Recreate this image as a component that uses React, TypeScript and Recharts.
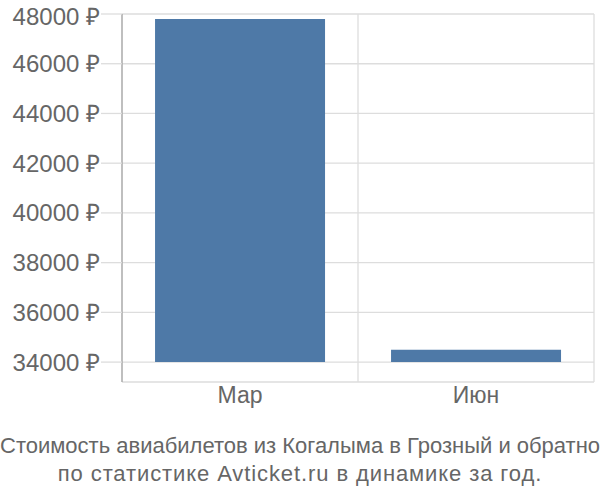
import React from "react";
import { BarChart, Bar, XAxis, YAxis, CartesianGrid } from "recharts";

const categories = ["Мар", "Июн"];
const prices = [47800, 34500];
const baseValue = 34000;
const yTicks = [34000, 36000, 38000, 40000, 42000, 44000, 46000, 48000];
const yDomain = [33200, 48000];
const titleLines = [
  "Стоимость авиабилетов из Когалыма в Грозный и обратно",
  "по статистике Avticket.ru в динамике за год.",
];

const data = categories.map((name, i) => ({ name, range: [baseValue, prices[i]] }));

const FONT = "'Liberation Sans', Arial, sans-serif";
const TEXT = "#666666";

export default function App() {
  return (
    <div style={{ position: "absolute", left: 0, top: 0, width: 600, height: 500, background: "#fff", fontFamily: FONT }}>
      <BarChart
        width={600}
        height={430}
        data={data}
        margin={{ top: 14, right: 6, left: 0, bottom: 8 }}
        barCategoryGap="14%"
      >
        <CartesianGrid
          stroke="#dddddd"
          strokeWidth={1.3}
          verticalCoordinatesGenerator={({ offset }: any) => [
            offset.left + offset.width / 2,
            offset.left + offset.width,
          ]}
        />
        <XAxis
          dataKey="name"
          axisLine={false}
          tickLine={false}
          tickSize={0}
          tickMargin={5}
          height={40}
          tick={{ fill: TEXT, fontSize: 23, fontFamily: FONT }}
        />
        <YAxis
          type="number"
          domain={yDomain}
          ticks={yTicks}
          allowDataOverflow
          width={122}
          tickSize={21}
          tickMargin={1}
          axisLine={{ stroke: "#aaaaaa", strokeWidth: 1.5 }}
          tickLine={{ stroke: "#dddddd", strokeWidth: 1.3 }}
          tickFormatter={(v: number) => `${v} ₽`}
          tick={{ fill: TEXT, fontSize: 24, fontFamily: FONT }}
        />
        <Bar dataKey="range" fill="#4e79a7" isAnimationActive={false} />
      </BarChart>
      <div
        style={{
          position: "absolute",
          left: 0,
          top: 432,
          width: 600,
          textAlign: "center",
          fontSize: 22,
          lineHeight: "28px",
          color: TEXT,
          whiteSpace: "nowrap",
        }}
      >
        <div>{titleLines[0]}</div>
        <div style={{ letterSpacing: "0.9px" }}>{titleLines[1]}</div>
      </div>
    </div>
  );
}
